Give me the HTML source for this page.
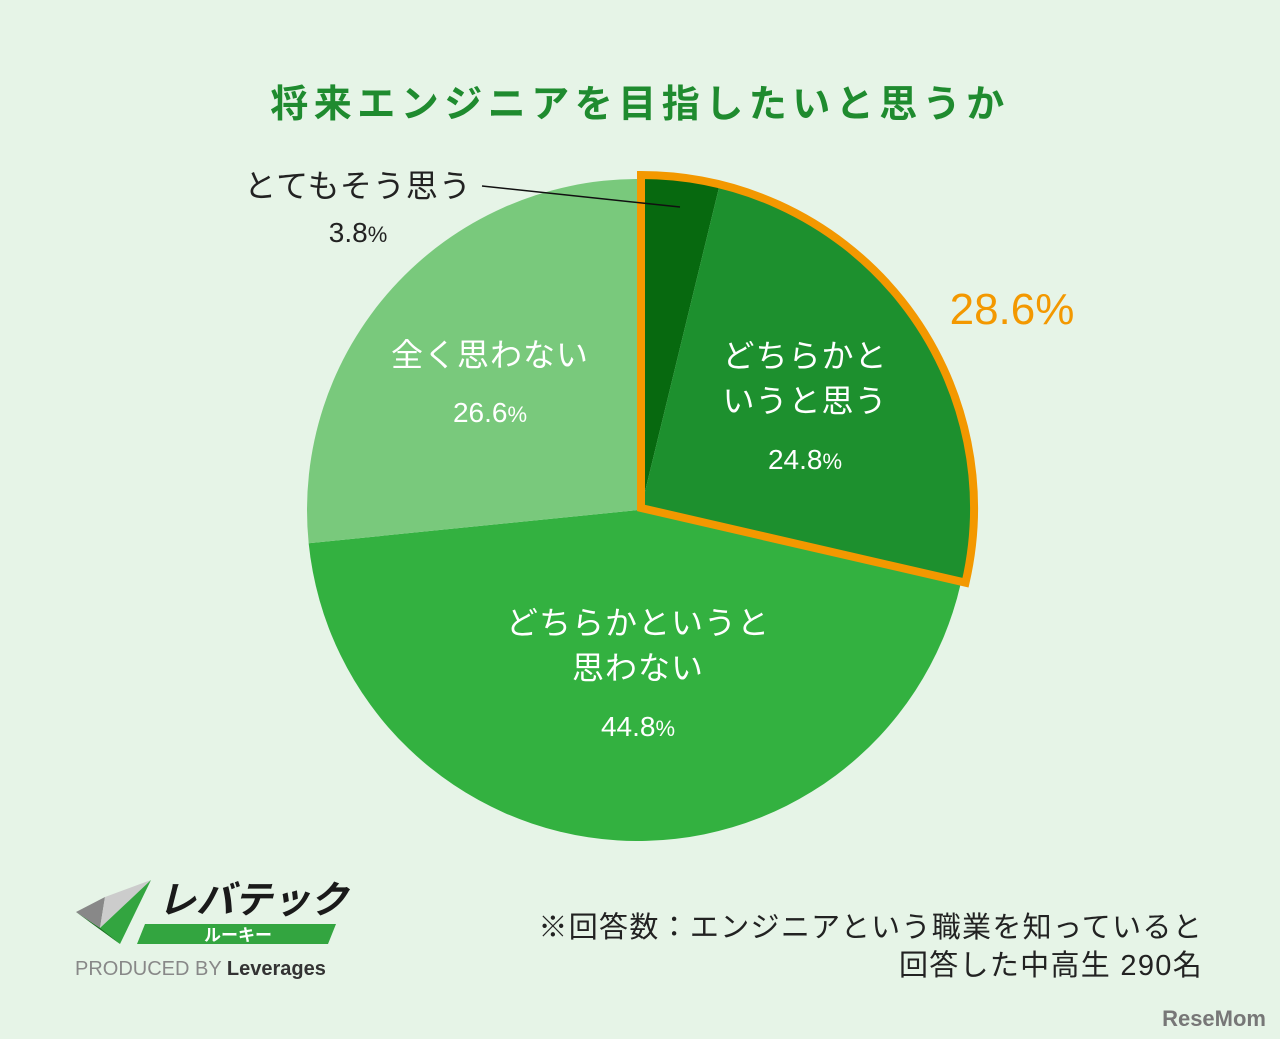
<!DOCTYPE html>
<html><head><meta charset="utf-8"><style>
body{margin:0;background:#e6f4e7;font-family:"Liberation Sans","Noto Sans CJK JP",sans-serif;}
svg{display:block}
</style></head><body>
<svg width="1280" height="1039" viewBox="0 0 1280 1039">
<rect width="1280" height="1039" fill="#e6f4e7"/>
<text x="640" y="117" text-anchor="middle" font-size="38" font-weight="bold" fill="#1f8b2f" letter-spacing="5.5">将来エンジニアを目指したいと思うか</text>
<g id="pie"></g>
<line x1="482" y1="186" x2="680" y2="207" stroke="#111" stroke-width="1.5"/>
<text x="358" y="197" text-anchor="middle" font-size="32" fill="#222" letter-spacing="1">とてもそう思う</text>
<text x="358" y="242" text-anchor="middle" font-size="28" fill="#222">3.8<tspan font-size="22">%</tspan></text>
<text x="805" y="367" text-anchor="middle" font-size="32" fill="#fff" letter-spacing="1">どちらかと</text>
<text x="805" y="412" text-anchor="middle" font-size="32" fill="#fff" letter-spacing="1">いうと思う</text>
<text x="805" y="469" text-anchor="middle" font-size="28" fill="#fff">24.8<tspan font-size="22">%</tspan></text>
<text x="1012" y="324" text-anchor="middle" font-size="44" fill="#f39800">28.6%</text>
<text x="638" y="634" text-anchor="middle" font-size="32" fill="#fff" letter-spacing="1">どちらかというと</text>
<text x="638" y="679" text-anchor="middle" font-size="32" fill="#fff" letter-spacing="1">思わない</text>
<text x="638" y="736" text-anchor="middle" font-size="28" fill="#fff">44.8<tspan font-size="22">%</tspan></text>
<text x="490" y="366" text-anchor="middle" font-size="32" fill="#fff" letter-spacing="1">全く思わない</text>
<text x="490" y="422" text-anchor="middle" font-size="28" fill="#fff">26.6<tspan font-size="22">%</tspan></text>
<g>
<polygon points="76,912 105,897 100,928" fill="#888"/>
<polygon points="105,897 151,880 100,928" fill="#ccc"/>
<polygon points="151,880 120,944 87,920 100,928" fill="#33a540"/>
<polygon points="76,912 100,928 120,944" fill="#1d6e24"/>
<text x="158" y="913" font-size="38" font-weight="bold" font-style="italic" fill="#1a1a1a">レバテック</text>
<polygon points="145,924 336,924 328,944 137,944" fill="#33a540"/>
<text x="238" y="941" text-anchor="middle" font-size="17" font-weight="bold" fill="#fff">ルーキー</text>
<text x="75" y="975" font-size="20" fill="#888">PRODUCED BY <tspan fill="#333" font-weight="bold">Leverages</tspan></text>
</g>
<text x="1203" y="937" text-anchor="end" font-size="29" fill="#222" letter-spacing="1.3">※回答数：エンジニアという職業を知っていると</text>
<text x="1203" y="975" text-anchor="end" font-size="29" fill="#222" letter-spacing="1.3">回答した中高生 290名</text>
<text x="1266" y="1026" text-anchor="end" font-size="22" font-weight="bold" fill="#777">ReseMom</text>
</svg>
<script>
const categories=["とてもそう思う","どちらかというと思う","どちらかというと思わない","全く思わない"];
const values=[3.8,24.8,44.8,26.6];
const colors=["#07690f","#1d902e","#33b140","#79c97c"];
const highlighted=[true,true,false,false];
const NS="http://www.w3.org/2000/svg";
const g=document.getElementById('pie');
const cx=638,cy=510,r=331;
const total=values.reduce((a,b)=>a+b,0);
function pt(x,y,rr,a){return [x+rr*Math.sin(a),y-rr*Math.cos(a)];}
function arc(x,y,rr,a0,a1){const p0=pt(x,y,rr,a0),p1=pt(x,y,rr,a1);const large=(a1-a0)>Math.PI?1:0;
return `M${x},${y}L${p0[0]},${p0[1]}A${rr},${rr} 0 ${large} 1 ${p1[0]},${p1[1]}Z`;}
let a=0;let hStart=null,hEnd=null;
values.forEach((v,i)=>{const a1=a+v/total*2*Math.PI;
 const hx=highlighted[i]?cx+3:cx, hy=highlighted[i]?cy-2:cy, hr=highlighted[i]?r+2:r;
 const p=document.createElementNS(NS,'path');
 p.setAttribute('d',arc(hx,hy,hr,a,a1));p.setAttribute('fill',colors[i]);
 
 
 g.appendChild(p);
 if(highlighted[i]){if(hStart===null)hStart=a;hEnd=a1;}
 a=a1;});
const o=document.createElementNS(NS,'path');
o.setAttribute('d',arc(cx+3,cy-2,r+2,hStart,hEnd));
o.setAttribute('fill','none');o.setAttribute('stroke','#f39800');o.setAttribute('stroke-width','8');o.setAttribute('stroke-linejoin','miter');


g.appendChild(o);
</script>
</body></html>
